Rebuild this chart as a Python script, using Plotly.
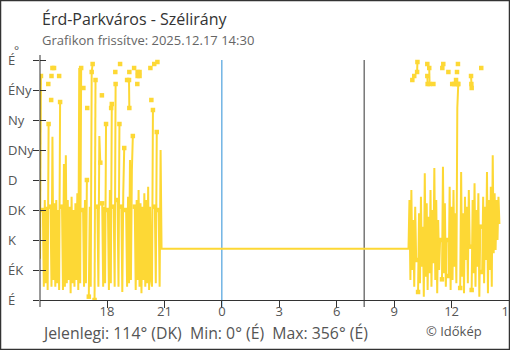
import plotly.graph_objects as go
import pandas as pd

# ---------------- text ----------------
TITLE = "Érd-Parkváros - Szélirány"
SUBTITLE = "Grafikon frissítve: 2025.12.17 14:30"
FOOTER = "Jelenlegi: 114° (DK)\u00a0\u00a0Min: 0° (É)\u00a0\u00a0Max: 356° (É)"
CREDIT = "© Időkép"
UNIT = "°"

# ---------------- axes ----------------
dir_ticks = [0, 45, 90, 135, 180, 225, 270, 315, 360]
dir_labels = ["É", "ÉK", "K", "DK", "D", "DNy", "Ny", "ÉNy", "É"]
hour_ticks = ["2025-12-16 18:00", "2025-12-16 21:00", "2025-12-17 00:00", "2025-12-17 03:00",
              "2025-12-17 06:00", "2025-12-17 09:00", "2025-12-17 12:00", "2025-12-17 15:00"]
hour_labels = ["18", "21", "0", "3", "6", "9", "12", "15"]
x_range = ["2025-12-16 14:30", "2025-12-17 15:00"]
y_range = [0, 367.5]

midnight = "2025-12-17 00:00"
marker_time = "2025-12-17 07:26"

# ---------------- data (wind direction, degrees) ----------------
STEP_MIN = 3
band1_start = "2025-12-16 14:30"
band1_values = [
    62, 336, None, 135, 20, 150, 25, 140, 15, 264,
    None, 140, 20, 245, 30, 145, 20, 150, 25, 135,
    15, 297, None, 140, 15, 204, 20, 217, 25, 150,
    30, 140, 10, 155, 25, 135, 20, 145, 30, 160,
    15, 348, 25, 348, None, 135, 20, 150, 25, 180,
    None, 5, 140, 20, 342, 354, None, 0, 330, None,
    140, 20, 246, 206, None, 145, 20, 140, 25, 264,
    None, 135, 15, 165, 25, 294, None, 140, 20, 324,
    None, 150, 20, 264, None, 140, 12, 160, 228, None,
    135, 20, 155, 25, 210, 30, 195, 246, None, 140,
    15, 150, 30, 165, 20, 145, 10, 140, 30, 160,
    20, 150, 25, 170, 15, 140, 30, 20, 285, None,
    140, 25, 252, None, 135, 20, 225, 77,
]
band2_start = "2025-12-17 09:45"
band2_values = [
    77, 150, 30, 165, 45, 120, 20, 140, 60, None,
    12, 130, 25, 155, 50, 110, 5, 190, 35, 145,
    15, 125, 40, 165, 20, 135, 55, 198, 30, 150,
    10, 120, 45, 90, None, 31, 200, 40, 145, 20,
    90, None, 36, 170, 15, 140, 30, 165, 50, 130,
    25, 288, 324, None, 18, 192, 35, 130, 10, 155,
    60, 140, 25, 165, 80, None, 15, 150, 40, 175,
    20, 135, 50, 160, 5, 110, None, 42, 155, 25,
    140, 60, 192, 10, 150, 45, 170, 20, 217, 70,
    160, 75, 150, 90, 155, 114,
]

# isolated readings near north (groups separated by None)
stray_times = [
    "2025-12-16 14:56", None, "2025-12-16 15:05", None, "2025-12-16 15:06", None,
    "2025-12-16 15:09", "2025-12-16 15:14", None, "2025-12-16 15:30", None,
    "2025-12-16 16:46", None, "2025-12-16 16:58", None, "2025-12-16 17:12", None,
    "2025-12-16 17:44", None, "2025-12-16 18:13", None, "2025-12-16 18:26", None,
    "2025-12-16 18:41", None,
    "2025-12-16 19:03", "2025-12-16 19:09", "2025-12-16 19:10", None,
    "2025-12-16 19:10", None, "2025-12-16 19:25", None, "2025-12-16 19:35", None,
    "2025-12-16 19:36", "2025-12-16 19:42", None, "2025-12-16 19:36", "2025-12-16 19:42", None,
    "2025-12-16 20:16", None, "2025-12-16 20:19", None, "2025-12-16 20:28", None,
    "2025-12-16 20:38", None,
    "2025-12-17 09:57", None, "2025-12-17 10:03", None,
    "2025-12-17 10:12", "2025-12-17 10:13", None, "2025-12-17 10:44", None,
    "2025-12-17 10:44", "2025-12-17 10:45", "2025-12-17 11:03", None,
    "2025-12-17 10:50", "2025-12-17 10:51", None, "2025-12-17 11:31", None,
    "2025-12-17 11:34", None, "2025-12-17 11:50", None,
    "2025-12-17 12:02", "2025-12-17 12:08", "2025-12-17 12:14", "2025-12-17 12:20", None,
    "2025-12-17 12:14", None, "2025-12-17 12:17", None, "2025-12-17 12:20", None,
    "2025-12-17 13:01", "2025-12-17 13:02", "2025-12-17 13:03", None,
    "2025-12-17 13:33",
]
stray_values = [
    324, None, 300, None, 336, None,
    348, 348, None, 336, None,
    318, None, 288, None, 342, None,
    307, None, 288, None, 342, None,
    354, None,
    330, 330, 288, None,
    342, None, 348, None, 324, None,
    342, 342, None, 336, 336, None,
    348, None, 300, None, 354, None,
    357, None,
    330, None, 336, None,
    342, 357, None, 354, None,
    336, 324, 324, None,
    348, 324, None, 348, None,
    354, None, 342, None,
    324, 324, 324, 324, None,
    330, None, 342, None, 354, None,
    336, 324, 318, None,
    348,
]

# ---------------- styling ----------------
YELLOW = "#FDD835"
AXIS = "#333333"
FONT = "Open Sans"

times1 = list(pd.date_range(band1_start, periods=len(band1_values), freq=f"{STEP_MIN}min"))
times2 = list(pd.date_range(band2_start, periods=len(band2_values), freq=f"{STEP_MIN}min"))
x_all = times1 + times2
y_all = band1_values + band2_values

n = len(y_all)
mx, my = [], []
for i, v in enumerate(y_all):
    if v is None:
        continue
    prev_gap = i > 0 and y_all[i - 1] is None
    next_gap = i < n - 1 and y_all[i + 1] is None
    if prev_gap or next_gap:
        mx.append(x_all[i])
        my.append(v)

fig = go.Figure()
fig.add_trace(go.Scatter(x=x_all, y=y_all, mode="lines", connectgaps=False,
                         line=dict(color=YELLOW, width=2, simplify=False), hoverinfo="skip"))
fig.add_trace(go.Scatter(x=mx, y=my, mode="markers",
                         marker=dict(symbol="square", size=4.5, color=YELLOW), hoverinfo="skip"))
fig.add_trace(go.Scatter(x=stray_times, y=stray_values, mode="lines+markers", connectgaps=False,
                         line=dict(color=YELLOW, width=2),
                         marker=dict(symbol="square", size=4.5, color=YELLOW), hoverinfo="skip"))
fig.add_trace(go.Scatter(x=[], y=[], yaxis="y2", showlegend=False, hoverinfo="skip"))

L, R, T, B = 40, 1, 55, 50
W, H = 510, 350
PW, PH = W - L - R, H - T - B


def px(x):
    return (x - L) / PW


def py(y):
    return (H - B - y) / PH


shapes = [
    dict(type="line", xref="paper", yref="paper", x0=0, x1=0, y0=py(307), y1=1,
         line=dict(color=AXIS, width=1)),
    dict(type="line", xref="x", yref="paper", x0=midnight, x1=midnight, y0=py(307),
         y1=360 / y_range[1], line=dict(color="#2b8fd6", width=1), layer="below"),
    dict(type="line", xref="x", yref="paper", x0=marker_time, x1=marker_time, y0=py(307),
         y1=360 / y_range[1], line=dict(color=AXIS, width=1), layer="below"),
    dict(type="rect", xref="paper", yref="paper", x0=px(0), x1=px(W), y0=py(H), y1=py(0),
         line=dict(color=AXIS, width=2.5)),
]

annotations = [
    dict(text=TITLE, xref="paper", yref="paper", x=px(40), y=py(19), xanchor="left",
         yanchor="middle", showarrow=False, font=dict(family=FONT, size=16, color="#333333")),
    dict(text=SUBTITLE, xref="paper", yref="paper", x=px(40), y=py(40.5), xanchor="left",
         yanchor="middle", showarrow=False, font=dict(family=FONT, size=13, color="#666666")),
    dict(text=FOOTER, xref="paper", yref="paper", x=px(40), y=py(333), xanchor="left",
         yanchor="middle", showarrow=False, font=dict(family=FONT, size=15.8, color="#555555")),
    dict(text=CREDIT, xref="paper", yref="paper", x=px(424), y=py(331), xanchor="left",
         yanchor="middle", showarrow=False, font=dict(family=FONT, size=13, color="#555555")),
    dict(text=UNIT, xref="paper", yref="paper", x=px(12), y=py(50.5), xanchor="left",
         yanchor="middle", showarrow=False, font=dict(family=FONT, size=12, color="#555555")),
]
for v, lab in zip(dir_ticks, dir_labels):
    annotations.append(dict(text=lab, xref="paper", yref="y", x=px(6), y=v, xanchor="left",
                            yanchor="middle", showarrow=False,
                            font=dict(family=FONT, size=13, color="#555555")))

fig.update_layout(
    width=W, height=H, margin=dict(l=L, r=R, t=T, b=B, autoexpand=False),
    paper_bgcolor="white", plot_bgcolor="white", showlegend=False, hovermode=False,
    font=dict(family=FONT),
    xaxis=dict(type="date", range=x_range, tickvals=hour_ticks, ticktext=hour_labels,
               ticks="outside", ticklen=7, tickcolor=AXIS, tickwidth=1, automargin=False,
               ticklabelstandoff=-8, ticklabeloverflow="allow",
               showline=True, linecolor=AXIS, linewidth=1, showgrid=False, zeroline=False,
               tickfont=dict(family=FONT, size=13, color="#555555")),
    yaxis=dict(range=y_range, tickvals=dir_ticks, showticklabels=False, ticks="outside",
               ticklen=6, tickcolor=AXIS, tickwidth=1, showline=False, showgrid=False,
               zeroline=False, fixedrange=True, automargin=False),
    yaxis2=dict(range=y_range, overlaying="y", side="left", tickvals=dir_ticks,
                showticklabels=False, ticks="inside", ticklen=6, tickcolor=AXIS, tickwidth=1,
                showline=False, showgrid=False, zeroline=False, automargin=False),
    shapes=shapes, annotations=annotations,
)

fig.write_html("out.html", config={"displayModeBar": False})
